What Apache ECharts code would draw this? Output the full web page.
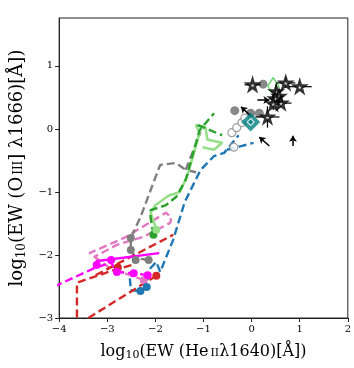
<!DOCTYPE html>
<html>
<head>
<meta charset="utf-8">
<script src="https://cdn.jsdelivr.net/npm/echarts@6/dist/echarts.min.js"></script>
<style>
  html, body { margin: 0; padding: 0; background: #fff; }
  #chart { width: 354px; height: 368px; }
</style>
</head>
<body>
<div id="chart"></div>
<script>
// axis ticks
const xTicks = [-4, -3, -2, -1, 0, 1, 2];
const yTicks = [-3, -2, -1, 0, 1];

// model tracks (dashed), [logEW HeII, logEW OIII]
const blueTrack = [[-2.53, -2.37], [-2.51, -2.56], [-2.31, -2.57], [-2.18, -2.51], [-2.14, -2.24], [-1.98, -2.11], [-1.90, -2.27], [-1.63, -1.76], [-1.39, -1.16], [-1.06, -0.65], [-0.78, -0.43], [-0.57, -0.38], [-0.27, -0.10]];
const blueBranch = [[-0.51, -0.33], [-0.20, -0.27], [0.04, -0.22]];
const blueDots = [[-2.31, -2.57], [-2.18, -2.51]];

const redTrack = [[-1.98, -2.33], [-3.50, -3.05], [-3.63, -3.05], [-3.63, -2.44], [-2.90, -2.25], [-2.49, -2.16]];
const redBranch = [[-3.24, -2.32], [-1.63, -1.68]];
const redDots = [[-2.78, -2.20], [-1.98, -2.33]];

const magentaTrack = [[-4.1, -2.50], [-3.24, -2.20], [-2.92, -2.12], [-2.80, -2.27], [-2.45, -2.29], [-2.16, -2.32]];
const magentaSolid = [[-3.24, -2.10], [-1.92, -1.97]];
const magentaDots = [[-3.22, -2.16], [-2.92, -2.08], [-2.80, -2.27], [-2.45, -2.29], [-2.16, -2.32]];

const pinkTrack = [[-2.24, -2.40], [-2.96, -2.20], [-3.37, -1.97], [-2.65, -1.73], [-1.78, -1.33], [-1.67, -1.40], [-1.69, -1.49], [-2.24, -1.71], [-2.80, -1.84], [-3.27, -2.03]];
const pinkDots = [[-2.24, -2.40]];

const grayTrack = [[-2.14, -2.08], [-2.41, -2.05], [-2.51, -1.92], [-2.51, -1.73], [-2.31, -1.40], [-1.90, -0.57], [-1.57, -0.54], [-1.37, -0.65], [-1.08, -0.70]];
const grayBranch = [[-1.37, -0.65], [-1.06, -0.05]];
const grayDots = [[-2.51, -1.73], [-2.51, -1.92], [-2.14, -2.08], [-2.41, -2.08]];

const greenTrack = [[-2.04, -1.68], [-2.10, -1.40], [-2.10, -1.29], [-1.78, -1.21], [-1.57, -1.08], [-1.37, -0.81], [-1.08, -0.02], [-0.78, 0.25]];
const greenBranch = [[-1.12, 0.06], [-0.61, -0.10]];
const greenDots = [[-2.04, -1.68]];

const lightGreenTrack = [[-1.98, -1.60], [-2.10, -1.33], [-2.00, -1.21], [-1.73, -1.06], [-1.49, -1.00], [-1.33, -0.73], [-1.08, -0.06], [-1.16, 0.06], [-0.96, 0.03], [-0.92, -0.17], [-0.61, -0.22], [-0.78, -0.33], [-1.02, -0.29]];
const lightGreenDots = [[-1.98, -1.60]];

// grey observations
const grayFilled = [[0.24, 0.71], [-0.35, 0.29], [-0.02, 0.25], [0.16, 0.25]];
const grayOpen = [[-0.41, -0.06], [-0.31, 0.02], [-0.20, 0.10], [-0.14, 0.17], [-0.37, -0.29]];

// highlighted objects
const tealDiamond = [[-0.02, 0.11]];
const greenDiamond = [[0.45, 0.68]];

// stars: x, y, xerr, yerr
const stars = [[0.02, 0.70, 0.17, 0], [0.71, 0.73, 0.2, 0.08], [1.00, 0.67, 0.25, 0], [0.51, 0.59, 0.1, 0.12], [0.57, 0.52, 0.1, 0.1], [0.49, 0.48, 0.12, 0.1], [0.61, 0.41, 0.22, 0.06], [0.45, 0.40, 0.1, 0.1], [0.33, 0.19, 0.25, 0.17]];

// limit arrows: from -> to
const arrows = [[[0.12, 0.46], [0.37, 0.46]], [[-0.02, 0.21], [-0.22, 0.35]], [[0.37, -0.27], [0.16, -0.13]], [[0.86, -0.27], [0.86, -0.11]]];

const serif = 'DejaVu Serif';
const starPath = 'path://M50,0 L61,35 L98,35 L68,57 L79,91 L50,70 L21,91 L32,57 L2,35 L39,35 Z';

function dashed(data, color, width, type) {
  return {
    type: 'line', data: data, symbol: 'none', silent: true,
    lineStyle: { color: color, width: width || 2.4, type: type || [8, 4] },
    z: 2
  };
}
function dots(data, color, size) {
  return {
    type: 'scatter', data: data, symbolSize: size || 8, silent: true,
    itemStyle: { color: color, opacity: 1 }, z: 3
  };
}
function minus(v) { return String(v).replace('-', '\u2212'); }

var chart = echarts.init(document.getElementById('chart'));

var option = {
  animation: false,
  grid: { left: 54, right: 6, top: 18, bottom: 50, show: true, borderColor: '#222', borderWidth: 1 },
  xAxis: {
    type: 'value', min: -4, max: 2, interval: 1,
    name: '{a|log}{s|10}{a|(EW (He}{sc|II}{a|λ1640)[Å])}',
    nameLocation: 'middle', nameGap: 24,
    nameTextStyle: { rich: {
      a: { fontFamily: serif, fontSize: 16, color: '#000' },
      s: { fontFamily: serif, fontSize: 11, color: '#000', padding: [8, 0, 0, 0] },
      sc: { fontFamily: serif, fontSize: 11, color: '#000', padding: [3, 0, 0, 2] }
    } },
    axisLine: { onZero: false, lineStyle: { color: '#222' } },
    axisTick: { length: 4, lineStyle: { color: '#222' } },
    splitLine: { show: false },
    axisLabel: { fontFamily: serif, fontSize: 10, color: '#000', margin: 6, formatter: minus }
  },
  yAxis: {
    type: 'value', min: -3, max: 1.76, interval: 1,
    name: '{a|log}{s|10}{a|(EW (O}{sc|III}{a|] λ1666)[Å])}',
    nameLocation: 'middle', nameGap: 30,
    nameTextStyle: { rich: {
      a: { fontFamily: serif, fontSize: 18, color: '#000' },
      s: { fontFamily: serif, fontSize: 12, color: '#000', padding: [9, 0, 0, 0] },
      sc: { fontFamily: serif, fontSize: 12, color: '#000', padding: [3, 0, 0, 2] }
    } },
    axisLine: { onZero: false, lineStyle: { color: '#222' } },
    axisTick: { length: 4, lineStyle: { color: '#222' } },
    splitLine: { show: false },
    axisLabel: { fontFamily: serif, fontSize: 10, color: '#000', margin: 6, showMaxLabel: false, formatter: minus }
  },
  series: [
    dashed(pinkTrack, '#e377c2'),
    dashed(grayTrack, '#7f7f7f'),
    dashed(grayBranch, '#7f7f7f'),
    dashed(lightGreenTrack, '#98df8a', 2.6, 'solid'),
    dashed(greenTrack, '#2ca02c'),
    dashed(greenBranch, '#2ca02c'),
    dashed(blueTrack, '#1f77b4'),
    dashed(blueBranch, '#1f77b4'),
    dashed(redTrack, '#d62728'),
    dashed(redBranch, '#d62728'),
    dashed(magentaTrack, '#ff00ff'),
    dashed(magentaSolid, '#ff00ff', 2.4, 'solid'),
    dots(pinkDots, '#e377c2'),
    dots(grayDots, '#7f7f7f'),
    dots(greenDots, '#2ca02c'),
    dots(lightGreenDots, '#98df8a'),
    dots(blueDots, '#1f77b4'),
    dots(redDots, '#d62728'),
    dots(magentaDots, '#ff00ff'),
    dots(grayFilled, '#888888', 9),
    {
      type: 'scatter', data: grayOpen, symbolSize: 8, silent: true, z: 4,
      itemStyle: { color: '#fff', borderColor: '#888', borderWidth: 1.2 }
    },
    {
      type: 'scatter', data: tealDiamond, symbol: 'diamond', symbolSize: [19, 19], silent: true, z: 5,
      itemStyle: { color: '#008080' }
    },
    {
      type: 'scatter', data: tealDiamond, symbol: 'diamond', symbolSize: [7, 7], silent: true, z: 6,
      itemStyle: { color: '#008080', borderColor: '#fff', borderWidth: 1.2 }
    },
    {
      type: 'scatter', data: greenDiamond, symbol: 'diamond', symbolSize: [11, 17], silent: true, z: 5,
      itemStyle: { color: 'rgba(0,0,0,0)', borderColor: '#33cc33', borderWidth: 1.3 }
    },
    {
      // error bars of the stars
      type: 'custom', silent: true, z: 6,
      data: stars,
      renderItem: function (params, api) {
        var x = api.value(0), y = api.value(1), ex = api.value(2), ey = api.value(3);
        var a = api.coord([x - ex, y]), b = api.coord([x + ex, y]);
        var c = api.coord([x, y - ey]), d = api.coord([x, y + ey]);
        var st = { stroke: '#000', lineWidth: 1.2 };
        return { type: 'group', children: [
          { type: 'line', shape: { x1: a[0], y1: a[1], x2: b[0], y2: b[1] }, style: st },
          { type: 'line', shape: { x1: c[0], y1: c[1], x2: d[0], y2: d[1] }, style: st }
        ] };
      }
    },
    {
      type: 'scatter', data: stars.map(function (s) { return [s[0], s[1]]; }),
      symbol: starPath, symbolSize: 11, silent: true, z: 7,
      itemStyle: { color: '#fff', borderColor: '#000', borderWidth: 2.4 }
    },
    {
      type: 'line', data: [], silent: true, z: 7,
      markLine: {
        silent: true, animation: false,
        symbol: ['none', 'arrow'], symbolSize: 6,
        label: { show: false },
        lineStyle: { color: '#000', width: 1.5, type: 'solid' },
        data: arrows.map(function (p) { return [{ coord: p[0] }, { coord: p[1] }]; })
      }
    }
  ]
};

chart.setOption(option);
</script>
</body>
</html>
